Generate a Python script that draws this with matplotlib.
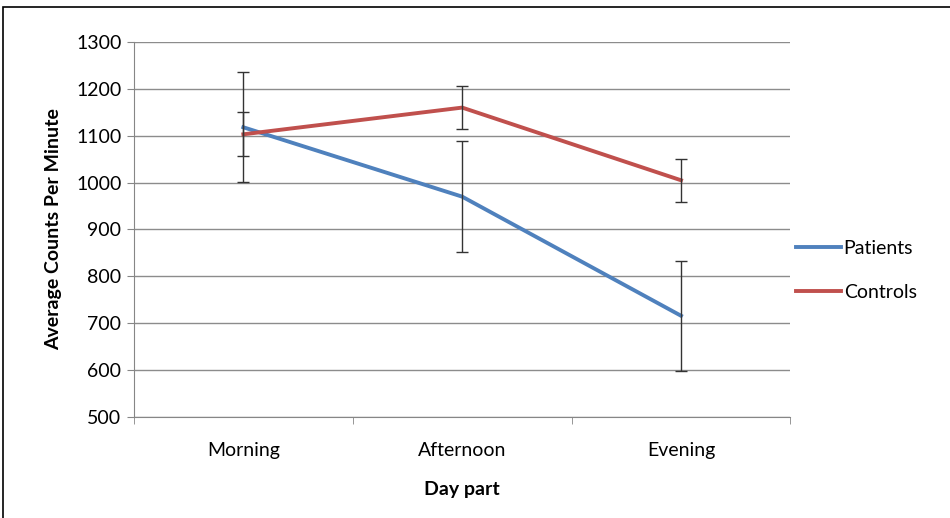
import matplotlib.pyplot as plt
from matplotlib.patches import Rectangle

plt.rcParams['font.family'] = ['Lato', 'DejaVu Sans']

day_parts = ["Morning", "Afternoon", "Evening"]
patients = [1118, 970, 716]
patients_err = [117, 118, 117]
controls = [1103, 1160, 1005]
controls_err = [47, 46, 46]

blue = "#4F81BD"
red = "#C0504D"

fig = plt.figure(figsize=(9.5, 5.18), dpi=100)
ax = fig.add_axes([0.141, 0.195, 0.691, 0.724])

x = range(len(day_parts))
ax.plot(x, patients, color=blue, lw=2.8, label="Patients", zorder=3)
ax.plot(x, controls, color=red, lw=2.8, label="Controls", zorder=3)
ax.errorbar(x, patients, yerr=patients_err, fmt="none", ecolor="#333333",
            elinewidth=1.0, capsize=4.5, capthick=1.0, zorder=4)
ax.errorbar(x, controls, yerr=controls_err, fmt="none", ecolor="#333333",
            elinewidth=1.0, capsize=4.5, capthick=1.0, zorder=4)

ax.set_xlim(-0.5, 2.5)
ax.set_ylim(500, 1300)
ax.set_yticks(range(500, 1301, 100))
ax.set_xticks(list(x))
ax.set_xticklabels(day_parts, fontsize=14)
ax.set_xticks([-0.5, 0.5, 1.5, 2.5], minor=True)
ax.tick_params(axis="x", which="major", length=0, pad=18)
ax.tick_params(axis="x", which="minor", length=5, color="#868686")
ax.tick_params(axis="y", length=5, color="#868686", labelsize=14, pad=4)

ax.grid(axis="y", color="#8c8c8c", lw=1.0)
ax.set_axisbelow(True)
for side in ("top", "right"):
    ax.spines[side].set_visible(False)
for side in ("left", "bottom"):
    ax.spines[side].set_color("#868686")

ax.set_ylabel("Average Counts Per Minute", fontsize=14, fontweight="bold", labelpad=10)
ax.set_xlabel("Day part", fontsize=14, fontweight="bold", labelpad=16)

fig.legend(loc="center left", bbox_to_anchor=(0.838, 0.478), frameon=False,
           fontsize=14, handlelength=2.3, handletextpad=0.15, labelspacing=1.4,
           borderpad=0, borderaxespad=0)

# thin frame around the whole figure
fig.patches.append(Rectangle((3 / 950, -0.05), 1.0, 1 - 7 / 518 + 0.05,
                             transform=fig.transFigure, fill=False,
                             edgecolor="black", lw=1.2))

fig.savefig("out.png", dpi=100)
